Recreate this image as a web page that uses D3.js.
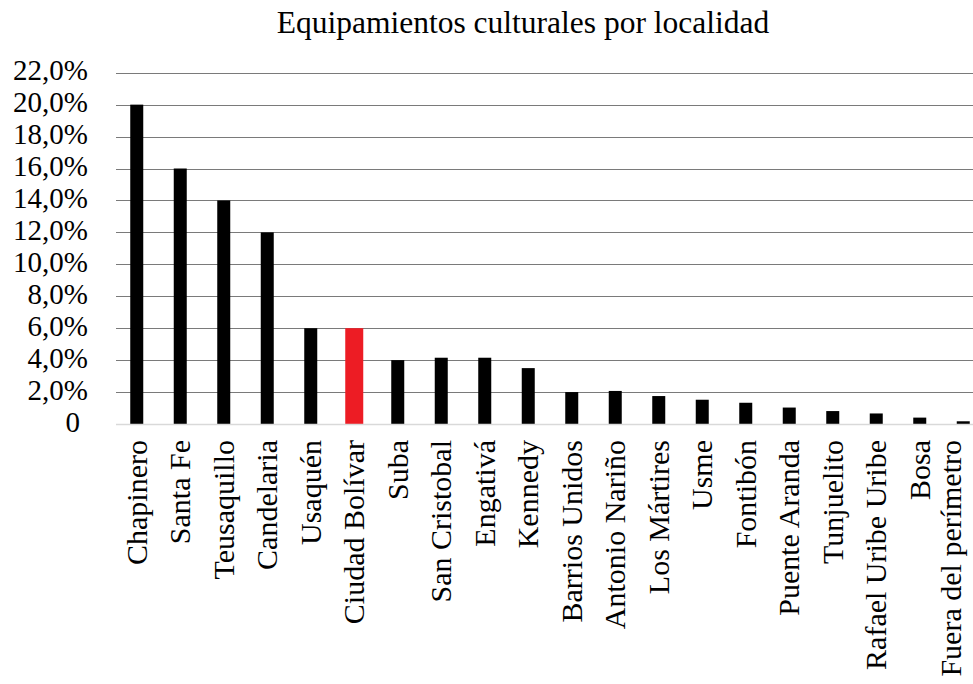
<!DOCTYPE html>
<html>
<head>
<meta charset="utf-8">
<script src="https://cdn.jsdelivr.net/npm/d3@7"></script>
<style>
    body { margin: 0; background: #fff; }
</style>
</head>
<body>
<div id="chart"></div>
<script>
// data
var localidades = ["Chapinero", "Santa Fe", "Teusaquillo", "Candelaria", "Usaquén",
    "Ciudad Bolívar", "Suba", "San Cristobal", "Engativá", "Kennedy", "Barrios Unidos",
    "Antonio Nariño", "Los Mártires", "Usme", "Fontibón", "Puente Aranda", "Tunjuelito",
    "Rafael Uribe Uribe", "Bosa", "Fuera del perímetro"];
var porcentajes = [20, 16, 14, 12, 6, 6, 4, 4.15, 4.15, 3.5, 2, 2.07, 1.75, 1.52,
    1.33, 1.03, 0.81, 0.66, 0.4, 0.17];
var resaltada = "Ciudad Bolívar";
var yTicks = [0, 2, 4, 6, 8, 10, 12, 14, 16, 18, 20, 22];

var fuente = "Liberation Serif";
var svgWidth = 973;
var svgHeight = 684;

var svg = d3.select("#chart")
    .append("svg")
    .attr("width", svgWidth)
    .attr("height", svgHeight);

// scales
var xScale = d3.scaleBand()
    .domain(localidades)
    .range([115, 985]);

var yScale = d3.scaleLinear()
    .domain([0, 22])
    .range([424, 72.7]);

// gridlines
svg.append("g")
    .selectAll("line")
    .data(yTicks.filter(d => d > 0))
    .enter()
    .append("line")
    .attr("x1", 116)
    .attr("x2", svgWidth)
    .attr("y1", d => Math.round(yScale(d)) + 0.5)
    .attr("y2", d => Math.round(yScale(d)) + 0.5)
    .attr("stroke", "#7a7a7a")
    .attr("stroke-width", 1.2);

// y axis labels
var yAxis = d3.axisLeft(yScale)
    .tickValues(yTicks)
    .tickSize(0)
    .tickPadding(0)
    .tickFormat(d => d === 0 ? "0" : d3.format(".1f")(d).replace(".", ",") + "%");

svg.append("g")
    .attr("transform", "translate(88,0)")
    .call(yAxis)
    .call(g => g.select(".domain").remove())
    .selectAll("text")
    .attr("dy", 7)
    .attr("x", d => d === 0 ? -8 : 0)
    .style("font-family", fuente)
    .style("font-size", "29px")
    .style("fill", "#000");

// bars
svg.append("g")
    .selectAll("rect")
    .data(localidades)
    .enter()
    .append("rect")
    .attr("x", d => {
        var w = d === resaltada ? 18 : 13;
        return xScale(d) + xScale.bandwidth() / 2 - w / 2;
    })
    .attr("width", d => d === resaltada ? 18 : 13)
    .attr("y", (d, i) => yScale(porcentajes[i]))
    .attr("height", (d, i) => yScale(0) - yScale(porcentajes[i]))
    .attr("fill", d => d === resaltada ? "#ed1c24" : "#000");

// baseline
svg.append("line")
    .attr("x1", 116)
    .attr("x2", svgWidth)
    .attr("y1", yScale(0) + 0.5)
    .attr("y2", yScale(0) + 0.5)
    .attr("stroke", "#d9d9d9")
    .attr("stroke-width", 1.5);

// category labels (last one pushed left so it stays inside the window)
svg.append("g")
    .selectAll("text")
    .data(localidades)
    .enter()
    .append("text")
    .attr("transform", d => {
        var cx = Math.min(xScale(d) + xScale.bandwidth() / 2, 951);
        return `translate(${cx}, 440) rotate(-90)`;
    })
    .attr("text-anchor", "end")
    .attr("dy", "0.33em")
    .style("font-family", fuente)
    .style("font-size", "30px")
    .text(d => d);

// title
svg.append("text")
    .attr("x", 523)
    .attr("y", 33)
    .attr("text-anchor", "middle")
    .style("font-family", fuente)
    .style("font-size", "31.5px")
    .text("Equipamientos culturales por localidad");
</script>
</body>
</html>
